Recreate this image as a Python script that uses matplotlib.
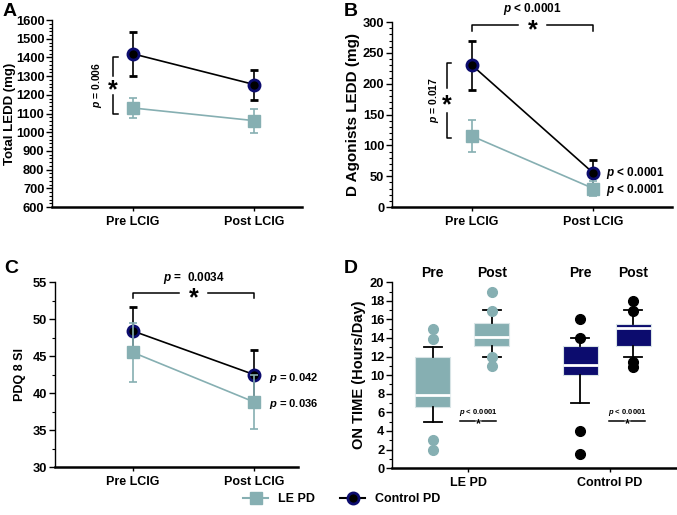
import matplotlib
matplotlib.use("Agg")
import matplotlib.pyplot as plt
from matplotlib.lines import Line2D
from matplotlib.ticker import MultipleLocator

plt.rcParams['font.family'] = ['Liberation Sans', 'DejaVu Sans']
plt.rcParams['font.weight'] = 'bold'
plt.rcParams['axes.labelweight'] = 'bold'
plt.rcParams['mathtext.fontset'] = 'custom'
plt.rcParams['mathtext.it'] = 'Liberation Sans:italic:bold'
plt.rcParams['mathtext.rm'] = 'Liberation Sans:bold'

TEAL = '#86AFB2'
NAVY = '#0C0C6E'

# ---- data ----
timepoints = ['Pre LCIG', 'Post LCIG']

ledd_le = [1130, 1062]
ledd_le_err = [55, 65]
ledd_ctrl = [1420, 1255]
ledd_ctrl_err = [118, 80]

dag_le = [115, 30]
dag_le_err = [26, 12]
dag_ctrl = [230, 55]
dag_ctrl_err = [40, 21]

pdq_le = [45.5, 38.8]
pdq_le_err = [4.0, 3.6]
pdq_ctrl = [48.4, 42.5]
pdq_ctrl_err = [3.2, 3.3]

box_labels = ['Pre', 'Post', 'Pre', 'Post']
box_q1 = [6.6, 13.1, 10.0, 13.1]
box_med = [7.9, 14.1, 11.1, 15.1]
box_q3 = [12.0, 15.6, 13.1, 15.5]
box_lo = [5.0, 12.0, 7.0, 12.0]
box_hi = [13.0, 17.0, 14.0, 17.0]
box_fliers = [[15.0, 13.9, 3.0, 1.9],
              [18.9, 16.9, 12.0, 11.0],
              [16.0, 14.0, 4.0, 1.5],
              [18.0, 16.9, 11.4, 10.9]]
groups = ['LE PD', 'Control PD']


def style_axes(ax, ylim, major, minor):
    ax.spines['top'].set_visible(False)
    ax.spines['right'].set_visible(False)
    ax.spines['left'].set_linewidth(1.0)
    ax.spines['bottom'].set_linewidth(1.8)
    ax.set_ylim(*ylim)
    ax.yaxis.set_major_locator(MultipleLocator(major))
    ax.yaxis.set_minor_locator(MultipleLocator(minor))
    ax.tick_params(axis='y', which='major', length=4, width=1, labelsize=9.3, pad=1.5)
    ax.tick_params(axis='y', which='minor', length=2, width=0.8)
    ax.tick_params(axis='x', length=3, width=1, labelsize=9)


def line_panel(ax, le, le_err, ctrl, ctrl_err):
    x = range(len(timepoints))
    ax.errorbar(x, ctrl, yerr=ctrl_err, color='black', lw=1.2, capsize=3,
                capthick=1.2, marker='o', ms=8, mfc='black', mec=NAVY, mew=2, zorder=3)
    ax.errorbar(x, le, yerr=le_err, color=TEAL, lw=1.2, capsize=3,
                capthick=1.2, marker='s', ms=8, mfc=TEAL, mec=TEAL, zorder=4)
    ax.set_xticks(list(x))
    ax.set_xticklabels(timepoints)


def star(ax, x, y, size):
    # asterisk glyph sits high in the font, so nudge it down onto the line
    ax.annotate('*', (x, y), xytext=(0, -size * 0.2), textcoords='offset points',
                ha='center', va='center', fontsize=size, annotation_clip=False)


def vbracket(ax, x, y0, y1, ptext, tx):
    ym = (y0 + y1) / 2
    gap = (y1 - y0) * 0.17
    ax.plot([x + 0.04, x, x], [y1, y1, ym + gap], color='black', lw=1.1)
    ax.plot([x + 0.04, x, x], [y0, y0, ym - gap], color='black', lw=1.1)
    star(ax, x, ym, 18)
    ax.text(tx, ym, ptext, rotation=90, ha='center', va='center', fontsize=7.5)


def hbracket(ax, y, tick, ptext, ty):
    ax.plot([0, 0, 0.38], [y - tick, y, y], color='black', lw=1.1, clip_on=False)
    ax.plot([0.62, 1, 1], [y, y, y - tick], color='black', lw=1.1, clip_on=False)
    star(ax, 0.5, y, 18)
    ax.text(0.5, ty, ptext, ha='center', va='center', fontsize=8.5, clip_on=False)


fig = plt.figure(figsize=(6.77, 5.15), dpi=100)

# ---- A ----
axA = fig.add_axes([0.077, 0.598, 0.369, 0.363])
line_panel(axA, ledd_le, ledd_le_err, ledd_ctrl, ledd_ctrl_err)
style_axes(axA, (600, 1600), 100, 20)
axA.set_xlim(-0.66, 1.39)
axA.set_ylabel('Total LEDD (mg)', fontsize=9.5, labelpad=0)
vbracket(axA, -0.16, 1100, 1400, '$p$ = 0.006', -0.29)

# ---- B ----
axB = fig.add_axes([0.579, 0.598, 0.414, 0.359])
line_panel(axB, dag_le, dag_le_err, dag_ctrl, dag_ctrl_err)
style_axes(axB, (0, 300), 50, 10)
axB.set_xlim(-0.66, 1.65)
axB.set_ylabel('D Agonists LEDD (mg)', fontsize=11, labelpad=2)
vbracket(axB, -0.21, 112, 234, '$p$ = 0.017', -0.31)
hbracket(axB, 295, 9, '$p$ < 0.0001', 322)
axB.text(1.1, dag_ctrl[1], '$p$ < 0.0001', ha='left', va='center', fontsize=8.5)
axB.text(1.1, 27, '$p$ < 0.0001', ha='left', va='center', fontsize=8.5)

# ---- C ----
axC = fig.add_axes([0.081, 0.093, 0.359, 0.359])
line_panel(axC, pdq_le, pdq_le_err, pdq_ctrl, pdq_ctrl_err)
style_axes(axC, (30, 55), 5, 2.5)
axC.set_xlim(-0.645, 1.36)
axC.set_ylabel('PDQ 8 SI', fontsize=9, labelpad=5)
hbracket(axC, 53.5, 0.7, '$p$ =  0.0034', 55.6)
axC.text(1.12, 42.0, '$p$ = 0.042', ha='left', va='center', fontsize=8)
axC.text(1.12, 38.6, '$p$ = 0.036', ha='left', va='center', fontsize=8)

# ---- D ----
axD = fig.add_axes([0.579, 0.091, 0.421, 0.361])
positions = [1, 2, 3.5, 4.4]
colors = [TEAL, TEAL, NAVY, NAVY]
flier_colors = [TEAL, TEAL, 'black', 'black']
for i in range(4):
    stats = [dict(q1=box_q1[i], med=box_med[i], q3=box_q3[i], whislo=box_lo[i],
                  whishi=box_hi[i], fliers=box_fliers[i])]
    axD.bxp(stats, positions=[positions[i]], widths=0.6, patch_artist=True,
            boxprops=dict(facecolor=colors[i], edgecolor='#d8e4e6', lw=0.8),
            medianprops=dict(color='white', lw=2),
            whiskerprops=dict(color='black', lw=1.3),
            capprops=dict(color='black', lw=1.3), capwidths=0.3,
            flierprops=dict(marker='o', mfc=flier_colors[i], mec=flier_colors[i], ms=7),
            manage_ticks=False)
    axD.text(positions[i], 21.0, box_labels[i], ha='center', va='center', fontsize=10,
             clip_on=False)
style_axes(axD, (0, 20), 2, 1)
axD.set_xlim(0.31, 5.14)
axD.set_xticks([1.6, 4.0])
axD.set_xticklabels(groups)
axD.set_ylabel('ON TIME (Hours/Day)', fontsize=10.5, labelpad=3)
for xc, x0, x1 in [(1.77, 1.47, 2.08), (4.29, 3.98, 4.59)]:
    axD.text(xc, 6.0, '$p$ < 0.0001', ha='center', va='center', fontsize=5.5)
    axD.plot([x0, xc - 0.05], [5.05, 5.05], color='black', lw=1.1)
    axD.plot([xc + 0.07, x1], [5.05, 5.05], color='black', lw=1.1)
    star(axD, xc + 0.01, 5.05, 9)

# ---- panel letters ----
fig.text(0.003, 0.977, 'A', fontsize=14, va='center')
fig.text(0.508, 0.977, 'B', fontsize=14, va='center')
fig.text(0.006, 0.478, 'C', fontsize=14, va='center')
fig.text(0.508, 0.478, 'D', fontsize=14, va='center')

# ---- legend ----
handles = [Line2D([], [], color=TEAL, lw=1.5, marker='s', ms=8, mfc=TEAL, mec=TEAL),
           Line2D([], [], color='black', lw=1.5, marker='o', ms=8, mfc='black', mec=NAVY, mew=2)]
fig.legend(handles, groups, loc='center', bbox_to_anchor=(0.505, 0.031), ncol=2,
           frameon=False, fontsize=9, handlelength=2, columnspacing=2.0)

fig.savefig('out.png', dpi=100)
